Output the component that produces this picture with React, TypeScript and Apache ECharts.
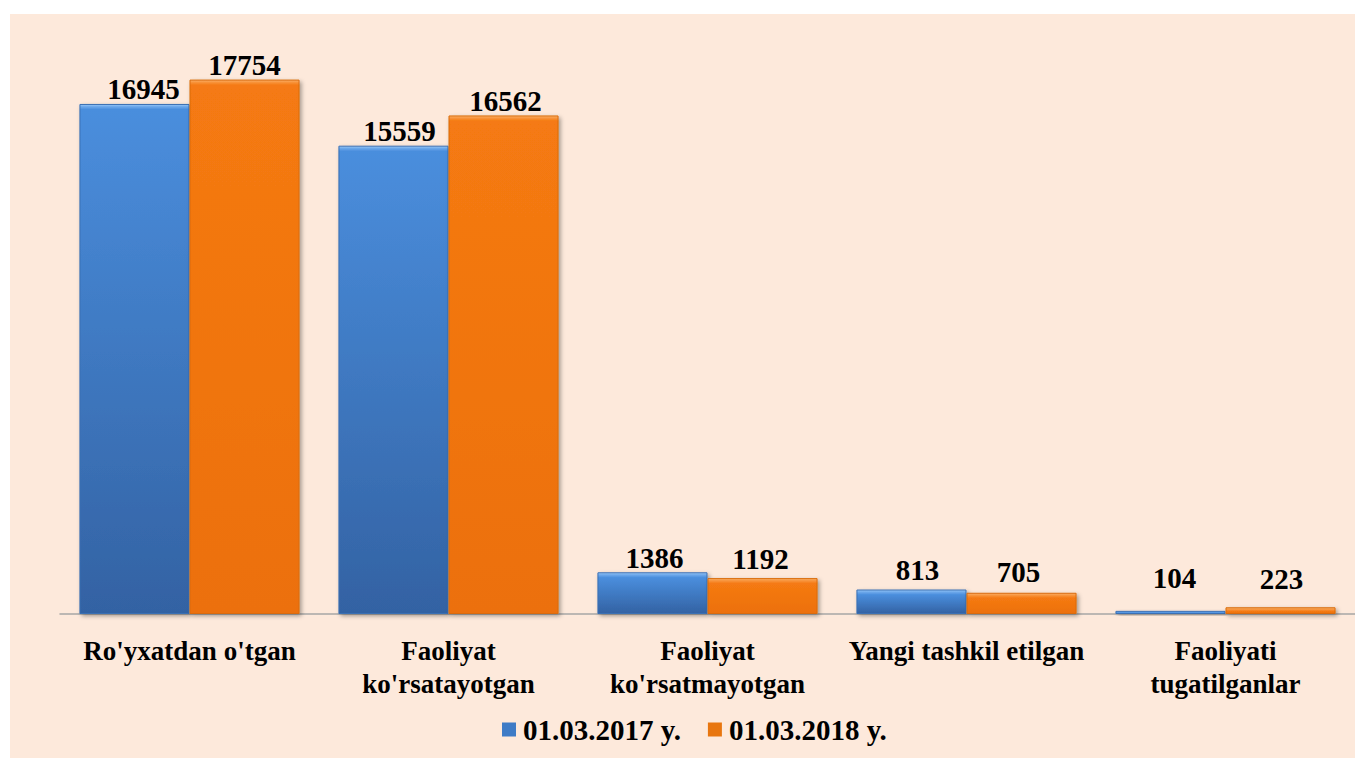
import React, { useEffect, useRef } from "react";
import * as echarts from "echarts";

const categories = [
  "Ro'yxatdan o'tgan",
  "Faoliyat\nko'rsatayotgan",
  "Faoliyat\nko'rsatmayotgan",
  "Yangi tashkil etilgan",
  "Faoliyati\ntugatilganlar",
];
const seriesNames = ["01.03.2017 y.", "01.03.2018 y."];
const values2017 = [16945, 15559, 1386, 813, 104];
const values2018 = [17754, 16562, 1192, 705, 223];

// label nudges (style only): [dx, extra distance]
const labelNudge2017 = [
  [9, 0],
  [6, 0],
  [2, 0],
  [6, 5],
  [4, 18],
];
const labelNudge2018 = [
  [0, 0],
  [2, 0],
  [-2, 5],
  [-3, 6],
  [1, 14],
];

const FONT = "'Liberation Serif', 'Times New Roman', serif";
const Y_MAX = 20000;
const PLOT_H = 602;

function bevelGradient(v: number, light: string, mid: string, top: string, bottom: string) {
  const h = Math.max((v / Y_MAX) * PLOT_H, 1);
  const a = Math.min(2 / h, 0.4);
  const b = Math.min(5 / h, 0.6);
  return new echarts.graphic.LinearGradient(0, 0, 0, 1, [
    { offset: 0, color: light },
    { offset: a, color: mid },
    { offset: b, color: top },
    { offset: 1, color: bottom },
  ]);
}

export default function App() {
  const ref = useRef<HTMLDivElement>(null);
  useEffect(() => {
    if (!ref.current) return;
    const chart = echarts.init(ref.current, undefined, { renderer: "svg" });
    const labelBase = {
      show: true,
      position: "top",
      color: "#000",
      fontFamily: FONT,
      fontWeight: "bold",
      fontSize: 29,
    };
    const mk = (
      vals: number[],
      nudges: number[][],
      colors: [string, string, string, string],
      border: string
    ) =>
      vals.map((v, i) => ({
        value: v,
        itemStyle: {
          color: bevelGradient(v, colors[0], colors[1], colors[2], colors[3]),
          borderColor: border,
          borderWidth: 1,
          shadowBlur: 4,
          shadowColor: "rgba(0,0,0,0.35)",
          shadowOffsetX: 2,
          shadowOffsetY: 2,
        },
        label: { ...labelBase, distance: nudges[i][1], offset: [nudges[i][0], 0] },
      }));

    chart.setOption({
      animation: false,
      backgroundColor: "transparent",
      graphic: [
        {
          type: "rect",
          z: -10,
          silent: true,
          shape: { x: 10, y: 14, width: 1345, height: 744 },
          style: { fill: "#FDE9DB" },
        },
      ],
      legend: {
        data: [
          { name: seriesNames[0], itemStyle: { color: "#3E7BC6" } },
          { name: seriesNames[1], itemStyle: { color: "#E8760F" } },
        ],
        left: 497,
        top: 710,
        icon: "rect",
        itemWidth: 14,
        itemHeight: 14,
        itemGap: 27,
        textStyle: {
          fontFamily: FONT,
          fontWeight: "bold",
          fontSize: 29,
          color: "#000",
          padding: [0, 0, 0, 2],
        },
      },
      grid: { left: 60, right: 0, top: 12, bottom: 144 },
      xAxis: {
        type: "category",
        data: categories,
        axisLine: { lineStyle: { color: "#A6A6A6", width: 1.5 } },
        axisTick: { show: false },
        axisLabel: {
          interval: 0,
          margin: 20,
          color: "#000",
          fontFamily: FONT,
          fontWeight: "bold",
          fontSize: 27,
          lineHeight: 33,
        },
      },
      yAxis: {
        type: "value",
        min: 0,
        max: Y_MAX,
        show: false,
        splitLine: { show: false },
      },
      series: [
        {
          name: seriesNames[0],
          type: "bar",
          barGap: "0%",
          barCategoryGap: "15%",
          itemStyle: { color: "#3E7BC6" },
          data: mk(values2017, labelNudge2017, ["#9CCBF7", "#6FAAEC", "#4A8EDD", "#3362A3"], "#3A6FB4"),
        },
        {
          name: seriesNames[1],
          type: "bar",
          itemStyle: { color: "#E8760F" },
          data: mk(values2018, labelNudge2018, ["#FBB46E", "#F8963F", "#F57A12", "#EC700D"], "#D96A0C"),
        },
      ],
    });
    return () => chart.dispose();
  }, []);
  return (
    <div
      ref={ref}
      style={{ position: "absolute", left: 0, top: 0, width: 1355, height: 758 }}
    />
  );
}
